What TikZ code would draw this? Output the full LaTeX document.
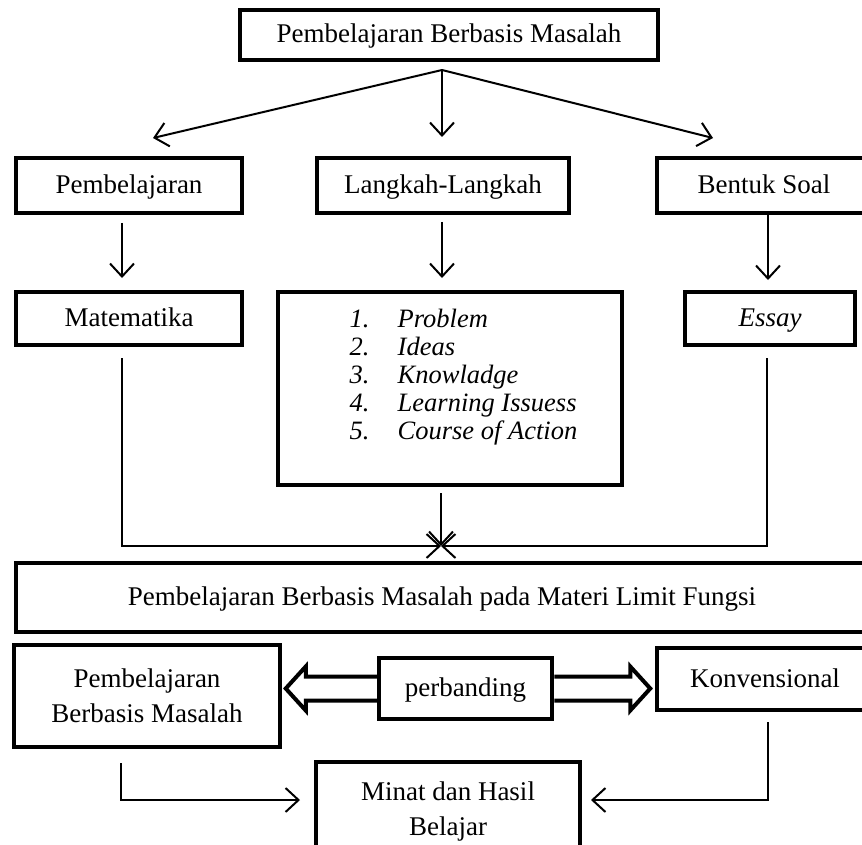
\documentclass[tikz,border=0pt]{standalone}
\usepackage{fontspec}
\setmainfont{Liberation Serif}
\usetikzlibrary{arrows.meta,calc}
\begin{document}
\begin{tikzpicture}[x=1pt,y=-1pt,
  box/.style={draw, line width=4.5pt, inner sep=0pt, align=center,
    font=\fontsize{27}{35}\selectfont},
  single/.style={text height=21pt, text depth=5pt},
  conn/.style={line width=2pt, -{Straight Barb[length=13pt,width=24pt,line width=2pt]}},
  thinconn/.style={line width=1.3pt, -{Straight Barb[length=13pt,width=24pt,line width=2pt]}},
  fat/.style={line width=4pt, line join=miter}
]
\useasboundingbox (0,0) rectangle (862,845);

% boxes
\node[box, single, minimum width=418pt, minimum height=50pt] (top) at (449,35) {Pembelajaran Berbasis Masalah};
\node[box, single, minimum width=226pt, minimum height=55pt] (r2a) at (129,185.5) {Pembelajaran};
\node[box, single, minimum width=252pt, minimum height=55pt] (r2b) at (443,185.5) {Langkah-Langkah};
\node[box, single, minimum width=214pt, minimum height=55pt] (r2c) at (764,185.5) {Bentuk Soal};
\node[box, single, minimum width=226pt, minimum height=53pt] (r3a) at (129,318.5) {Matematika};
\node[box, minimum width=344pt, minimum height=193pt] (r3b) at (450,388.5)
  {\hspace*{27pt}\fontsize{26.5}{28}\selectfont\begin{tabular}{@{}p{48pt}@{}l@{}}
   \textit{1.} & \textit{Problem}\\
   \textit{2.} & \textit{Ideas}\\
   \textit{3.} & \textit{Knowladge}\\
   \textit{4.} & \textit{Learning Issuess}\\
   \textit{5.} & \textit{Course of Action}\rule[-30pt]{0pt}{0pt}
   \end{tabular}};
\node[box, single, minimum width=170pt, minimum height=53pt] (r3c) at (770,318.5) {\textit{Essay}};
\node[box, single, minimum width=852pt, minimum height=69pt] (big) at (442,597.5) {Pembelajaran Berbasis Masalah pada Materi Limit Fungsi};
\node[box, minimum width=266pt, minimum height=102pt] (pbm) at (147,696) {Pembelajaran\\Berbasis Masalah};
\node[box, single, minimum width=173pt, minimum height=61pt] (perb) at (465.5,688.5) {perbanding};
\node[box, single, minimum width=216pt, minimum height=62pt] (konv) at (765,679) {Konvensional};
\node[box, minimum width=264pt, minimum height=98pt] (minat) at (448,811) {Minat dan Hasil\\Belajar};

% top fan
\coordinate (apex) at (442,70);
\coordinate (t1) at (153,138);
\coordinate (t2) at (442,137);
\coordinate (t3) at (713,138);
\draw[conn] (apex) -- (t1);
\draw[conn] (apex) -- (t2);
\draw[conn] (apex) -- (t3);

% row 2 -> row 3
\coordinate (a1s) at (122,223); \coordinate (a1e) at (122,278);
\coordinate (a2s) at (442,222); \coordinate (a2e) at (442,278);
\coordinate (a3e) at (768,280);
\draw[conn] (a1s) -- (a1e);
\draw[conn] (a2s) -- (a2e);
\draw[conn] (r2c.south -| a3e) -- (a3e);

% converge
\coordinate (conv) at (441,546);
\coordinate (m1) at (122,358);
\coordinate (m3) at (767,358);
\coordinate (m2) at (441,493);
\draw[thinconn] (m1) |- (conv);
\draw[thinconn] (m3) |- (conv);
\draw[conn] (m2) -- (conv);

% double arrows
\draw[fat] ($(perb.west)+(0,-12)$) -- ++(-71,0) -- ++(0,-10) -- ++(-20,22) -- ++(20,22) -- ++(0,-10) -- ++(71,0);
\draw[fat] ($(perb.east)+(0,-12)$) -- ++(76,0) -- ++(0,-10) -- ++(20,22) -- ++(-20,22) -- ++(0,-10) -- ++(-76,0);

% bottom elbows
\coordinate (b1) at (121,763);
\coordinate (b1e) at (300,800);
\coordinate (b2) at (768,722);
\coordinate (b2e) at (591,800);
\draw[thinconn] (b1) |- (b1e);
\draw[thinconn] (b2) |- (b2e);
\end{tikzpicture}
\end{document}
